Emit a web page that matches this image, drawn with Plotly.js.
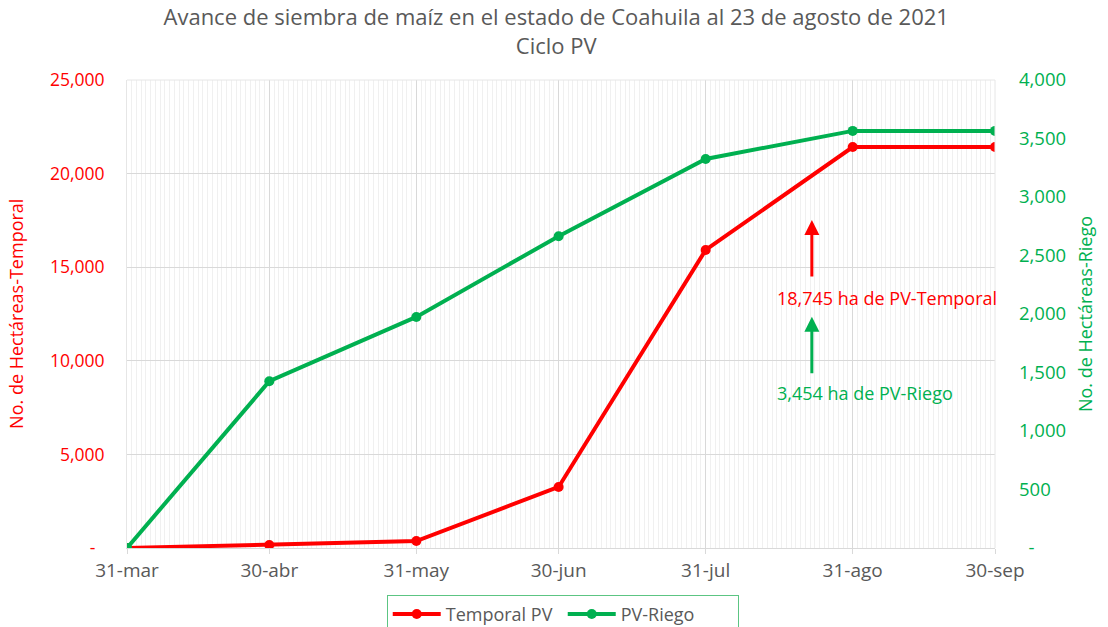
<!DOCTYPE html>
<html>
<head>
<meta charset="utf-8">
<script src="https://cdn.plot.ly/plotly-3.0.1.min.js"></script>
<style>html,body{margin:0;padding:0;background:#fff;}#chart{width:1108px;height:627px;}</style>
</head>
<body>
<div id="chart"></div>
<script>
// Data
const dates = ["2021-03-31", "2021-04-30", "2021-05-31", "2021-06-30", "2021-07-31", "2021-08-31", "2021-09-30"];
const dateLabels = ["31-mar", "30-abr", "31-may", "30-jun", "31-jul", "31-ago", "30-sep"];
const temporalPV = [0, 160, 370, 3260, 15920, 21420, 21420];
const pvRiego = [0, 1425, 1975, 2665, 3325, 3565, 3565];
const leftTickVals = [0, 5000, 10000, 15000, 20000, 25000];
const leftTickText = ["-\u00a0\u00a0", "5,000", "10,000", "15,000", "20,000", "25,000"];
const rightTickVals = [0, 500, 1000, 1500, 2000, 2500, 3000, 3500, 4000];
const rightTickText = ["\u00a0\u00a0-", "500", "1,000", "1,500", "2,000", "2,500", "3,000", "3,500", "4,000"];
const noteTemporal = "18,745 ha de PV-Temporal";
const noteRiego = "3,454 ha de PV-Riego";

const RED = "#ff0000", GREEN = "#00b050", GRAY = "#595959";
const FONT = "Open Sans, sans-serif";

const traces = [
  {x: dates, y: temporalPV, name: "Temporal PV", type: "scatter", mode: "lines+markers",
   line: {color: RED, width: 4}, marker: {color: RED, size: 10}, yaxis: "y"},
  {x: dates, y: pvRiego, name: "PV-Riego", type: "scatter", mode: "lines+markers",
   line: {color: GREEN, width: 4}, marker: {color: GREEN, size: 10}, yaxis: "y2"}
];

const layout = {
  width: 1108, height: 627,
  margin: {l: 127, r: 113, t: 80, b: 79, autoexpand: false},
  paper_bgcolor: "#fff", plot_bgcolor: "#fff",
  font: {family: FONT, color: GRAY, size: 16},
  title: {text: "Avance de siembra de maíz en el estado de Coahuila al 23 de agosto de 2021<br>Ciclo PV",
          font: {family: FONT, size: 22, color: GRAY}, x: 0.502, xanchor: "center", xref: "container",
          y: 0.960, yanchor: "top", yref: "container"},
  showlegend: true,
  legend: {orientation: "h", x: 0.502, xanchor: "center", y: -0.1, yanchor: "top",
           itemwidth: 48, entrywidth: 112,
           bordercolor: "#5cc583", borderwidth: 1, font: {size: 18, color: GRAY}},
  xaxis: {type: "date", range: ["2021-03-31", "2021-09-30"], tickvals: dates, ticktext: dateLabels,
          showgrid: true, gridcolor: "#d9d9d9", gridwidth: 1,
          minor: {dtick: 86400000, showgrid: true, gridcolor: "#f0f0f0", gridwidth: 1},
          showline: true, linecolor: "#d9d9d9", ticks: "outside", ticklen: 5, tickcolor: "#d9d9d9",
          tickfont: {size: 19, color: GRAY}, zeroline: false, mirror: false},
  yaxis: {range: [0, 25000], tickvals: leftTickVals, ticktext: leftTickText,
          tickfont: {size: 17.5, color: RED}, showgrid: true, gridcolor: "#d9d9d9",
          showline: true, linecolor: "#e6e6e6", zeroline: false, ticks: "", ticklabelstandoff: 18},
  yaxis2: {range: [0, 4000], tickvals: rightTickVals, ticktext: rightTickText, overlaying: "y", side: "right",
           tickfont: {size: 18.5, color: GREEN}, showgrid: false, showline: false, zeroline: false, ticks: "",
           ticklabelstandoff: 23,
           title: {text: "No. de Hectáreas-Riego", font: {size: 18, color: GREEN}, standoff: 14}},
  shapes: [
    {type: "line", xref: "paper", yref: "paper", x0: 0, x1: 1, y0: 1, y1: 1, line: {color: "#e6e6e6", width: 1}},
    {type: "line", xref: "paper", yref: "paper", x0: 1, x1: 1, y0: 0, y1: 1, line: {color: "#e6e6e6", width: 1}}
  ],
  annotations: [
    {xref: "paper", yref: "paper", x: 0.789, y: 0.701, ax: 0, ay: 58, axref: "pixel", ayref: "pixel",
     text: "", showarrow: true, arrowhead: 2, arrowsize: 1, arrowwidth: 3, arrowcolor: RED},
    {xref: "paper", yref: "paper", x: 0.789, y: 0.494, ax: 0, ay: 58, axref: "pixel", ayref: "pixel",
     text: "", showarrow: true, arrowhead: 2, arrowsize: 1, arrowwidth: 3, arrowcolor: GREEN},
    {xref: "paper", yref: "paper", x: 0.8756, y: 0.534, text: noteTemporal, showarrow: false,
     font: {size: 18, color: RED}, xanchor: "center", yanchor: "middle"},
    {xref: "paper", yref: "paper", x: 0.85, y: 0.331, text: noteRiego, showarrow: false,
     font: {size: 18, color: GREEN}, xanchor: "center", yanchor: "middle"},
    {xref: "paper", yref: "paper", x: -0.128, y: 0.50, text: "No. de Hectáreas-Temporal", showarrow: false,
     textangle: -90, font: {size: 18, color: RED}, xanchor: "center", yanchor: "middle"}
  ]
};

Plotly.newPlot("chart", traces, layout, {displayModeBar: false, staticPlot: true});
</script>
</body>
</html>
